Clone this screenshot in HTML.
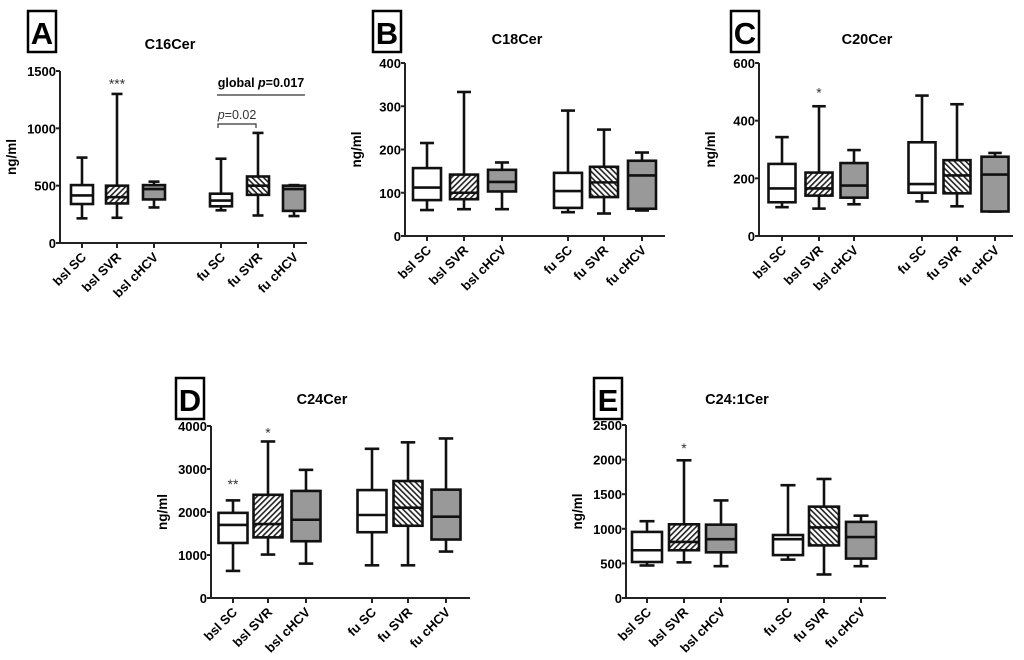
<!DOCTYPE html>
<html><head><meta charset="utf-8"><style>
html,body{margin:0;padding:0;background:#fff;}
svg{display:block;font-family:"Liberation Sans",Arial,sans-serif;}
</style></head><body>
<svg id="fig" width="1024" height="660" viewBox="0 0 1024 660" xmlns="http://www.w3.org/2000/svg">
<defs>
<pattern id="hatchF" patternUnits="userSpaceOnUse" width="4" height="4" patternTransform="rotate(45)"><rect width="4" height="4" fill="#fff"/><rect width="1.6" height="4" fill="#222"/></pattern>
<pattern id="hatchB" patternUnits="userSpaceOnUse" width="4" height="4" patternTransform="rotate(-45)"><rect width="4" height="4" fill="#fff"/><rect width="1.6" height="4" fill="#222"/></pattern>
</defs>
</svg>
<script>
const categories = ["bsl SC","bsl SVR","bsl cHCV","fu SC","fu SVR","fu cHCV"];
// Panel A C16Cer
const aMin = [215,220,310,285,240,235];
const aQ1 = [340,345,380,320,420,280];
const aMed = [415,400,470,370,500,470];
const aQ3 = [505,500,505,430,580,500];
const aMax = [745,1300,535,735,960,505];
const aTicks = [0,500,1000,1500];
// Panel B C18Cer
const bMin = [60,62,62,55,52,59];
const bQ1 = [83,85,103,65,90,63];
const bMed = [112,100,125,104,124,140];
const bQ3 = [157,142,153,146,160,174];
const bMax = [215,333,170,290,246,193];
const bTicks = [0,100,200,300,400];
// Panel C C20Cer
const cMin = [100,95,110,120,103,85];
const cQ1 = [117,140,133,150,148,85];
const cMed = [165,165,175,180,210,213];
const cQ3 = [250,220,253,325,263,275];
const cMax = [343,450,298,487,457,288];
const cTicks = [0,200,400,600];
// Panel D C24Cer
const dMin = [630,1010,800,760,760,1080];
const dQ1 = [1280,1410,1320,1530,1680,1360];
const dMed = [1700,1720,1820,1930,2100,1890];
const dQ3 = [1980,2400,2490,2510,2720,2520];
const dMax = [2270,3640,2980,3470,3620,3710];
const dTicks = [0,1000,2000,3000,4000];
// Panel E C24:1Cer
const eMin = [470,515,460,555,340,460];
const eQ1 = [520,690,660,620,760,570];
const eMed = [690,810,850,850,1020,880];
const eQ3 = [955,1065,1060,910,1320,1100];
const eMax = [1110,1990,1410,1630,1720,1190];
const eTicks = [0,500,1000,1500,2000,2500];

const NS="http://www.w3.org/2000/svg";
const svg=document.getElementById('fig');
function mk(tag,attrs,parent,txt){const e=document.createElementNS(NS,tag);for(const k in attrs)e.setAttribute(k,attrs[k]);if(txt!==undefined)e.textContent=txt;(parent||svg).appendChild(e);return e;}
const fills=["#fff","url(#hatchF)","#999","#fff","url(#hatchB)","#999"];

function panel(cfg){
  const g=mk('g',{});
  
  
  const y=v=>cfg.y0-(v/cfg.ymax)*(cfg.y0-cfg.yTop);
  const lb=mk('rect',{x:cfg.lx,y:cfg.ly,width:28,height:41,fill:'none',stroke:'#000','stroke-width':2.5},g);
  
  
  const lt=mk('text',{x:cfg.lx+14,y:cfg.ly+33,'text-anchor':'middle','font-size':31,'font-weight':'bold'},g,cfg.letter);
  
  
  const tt=mk('text',{x:cfg.tx,y:cfg.ty,'text-anchor':'middle','font-size':14.5,'font-weight':'bold'},g,cfg.title);
  
  
  const ya=mk('line',{x1:cfg.ax,y1:cfg.yTop,x2:cfg.ax,y2:cfg.y0,stroke:'#222','stroke-width':2},g);
  
  
  const xa=mk('line',{x1:cfg.ax,y1:cfg.y0,x2:cfg.axEnd,y2:cfg.y0,stroke:'#222','stroke-width':2},g);
  
  
  cfg.ticks.forEach(t=>{
    mk('line',{x1:cfg.ax-4,y1:y(t),x2:cfg.ax,y2:y(t),stroke:'#222','stroke-width':2},g);
    const tl=mk('text',{x:cfg.ax-4,y:y(t)+5,'text-anchor':'end','font-size':13,'font-weight':'bold'},g,String(t));
    
    
  });
  const yt=mk('text',{x:0,y:0,'text-anchor':'middle','font-size':13.5,'font-weight':'bold',transform:`translate(${cfg.ax-44},${(cfg.yTop+cfg.y0)/2}) rotate(-90)`},g,'ng/ml');
  
  
  const hw=cfg.bw/2;
  categories.forEach((c,i)=>{
    const cx=cfg.xs[i];
    mk('line',{x1:cx,y1:cfg.y0,x2:cx,y2:cfg.y0+5,stroke:'#222','stroke-width':2},g);
    const xl=mk('text',{x:0,y:0,'text-anchor':'end','font-size':13,'font-weight':'bold',transform:`translate(${cx+5},${cfg.y0+15}) rotate(-45)`},g,c);
    
    
    const bg=mk('g',{},g);
    
    
    const st={stroke:'#111','stroke-width':2.6};
    mk('line',Object.assign({x1:cx,y1:y(cfg.max[i]),x2:cx,y2:y(cfg.q3[i])},st),bg);
    mk('line',Object.assign({x1:cx,y1:y(cfg.q1[i]),x2:cx,y2:y(cfg.min[i])},st),bg);
    mk('line',Object.assign({x1:cx-hw/2,y1:y(cfg.max[i]),x2:cx+hw/2,y2:y(cfg.max[i])},st),bg);
    mk('line',Object.assign({x1:cx-hw/2,y1:y(cfg.min[i]),x2:cx+hw/2,y2:y(cfg.min[i])},st),bg);
    mk('rect',Object.assign({x:cx-hw,y:y(cfg.q3[i]),width:cfg.bw,height:Math.max(0.5,y(cfg.q1[i])-y(cfg.q3[i])),fill:fills[i]},st),bg);
    mk('line',Object.assign({x1:cx-hw,y1:y(cfg.med[i]),x2:cx+hw,y2:y(cfg.med[i])},st),bg);
  });
  (cfg.stars||[]).forEach(s=>{
    const sm=mk('text',{x:cfg.xs[s[0]],y:y(s[1])+7,'text-anchor':'middle','font-size':14,fill:'#333'},g,s[2]);
    
    
  });
  return {g,y};
}

const A=panel({letter:'A',title:'C16Cer',lx:28,ly:11,tx:170,ty:49,ax:60,axEnd:307,y0:243,yTop:71,ymax:1500,ticks:aTicks,
  xs:[82,117,154,221,258,294],bw:22,min:aMin,q1:aQ1,med:aMed,q3:aQ3,max:aMax,stars:[[1,1410,'***']]});
const gl=mk('text',{x:261,y:87,'text-anchor':'middle','font-size':12.5,'font-weight':'bold'},A.g);
gl.innerHTML='global <tspan font-style="italic">p</tspan>=0.017';


const gline=mk('line',{x1:217,y1:95,x2:305,y2:95,stroke:'#333','stroke-width':1.2},A.g);


const pl=mk('text',{x:237,y:119,'text-anchor':'middle','font-size':12.5,fill:'#333'},A.g);
pl.innerHTML='<tspan font-style="italic">p</tspan>=0.02';


const pb=mk('path',{d:'M218,128 V124 H256 V128',fill:'none',stroke:'#333','stroke-width':1.2},A.g);



panel({letter:'B',title:'C18Cer',lx:373,ly:11,tx:517,ty:44,ax:405,axEnd:665,y0:236,yTop:63,ymax:400,ticks:bTicks,
  xs:[427,464,502,568,604,642],bw:28,min:bMin,q1:bQ1,med:bMed,q3:bQ3,max:bMax});
panel({letter:'C',title:'C20Cer',lx:731,ly:11,tx:867,ty:44,ax:759,axEnd:1013,y0:236,yTop:63,ymax:600,ticks:cTicks,
  xs:[782,819,854,922,957,995],bw:27,min:cMin,q1:cQ1,med:cMed,q3:cQ3,max:cMax,stars:[[1,505,'*']]});
panel({letter:'D',title:'C24Cer',lx:176,ly:378,tx:322,ty:404,ax:211,axEnd:470,y0:598,yTop:426,ymax:4000,ticks:dTicks,
  xs:[233,268,306,372,408,446],bw:29,min:dMin,q1:dQ1,med:dMed,q3:dQ3,max:dMax,stars:[[0,2700,'**'],[1,3900,'*']]});
panel({letter:'E',title:'C24:1Cer',lx:594,ly:378,tx:737,ty:404,ax:626,axEnd:886,y0:598,yTop:425,ymax:2500,ticks:eTicks,
  xs:[647,684,721,788,824,861],bw:30,min:eMin,q1:eQ1,med:eMed,q3:eQ3,max:eMax,stars:[[1,2200,'*']]});
</script>
</body></html>
